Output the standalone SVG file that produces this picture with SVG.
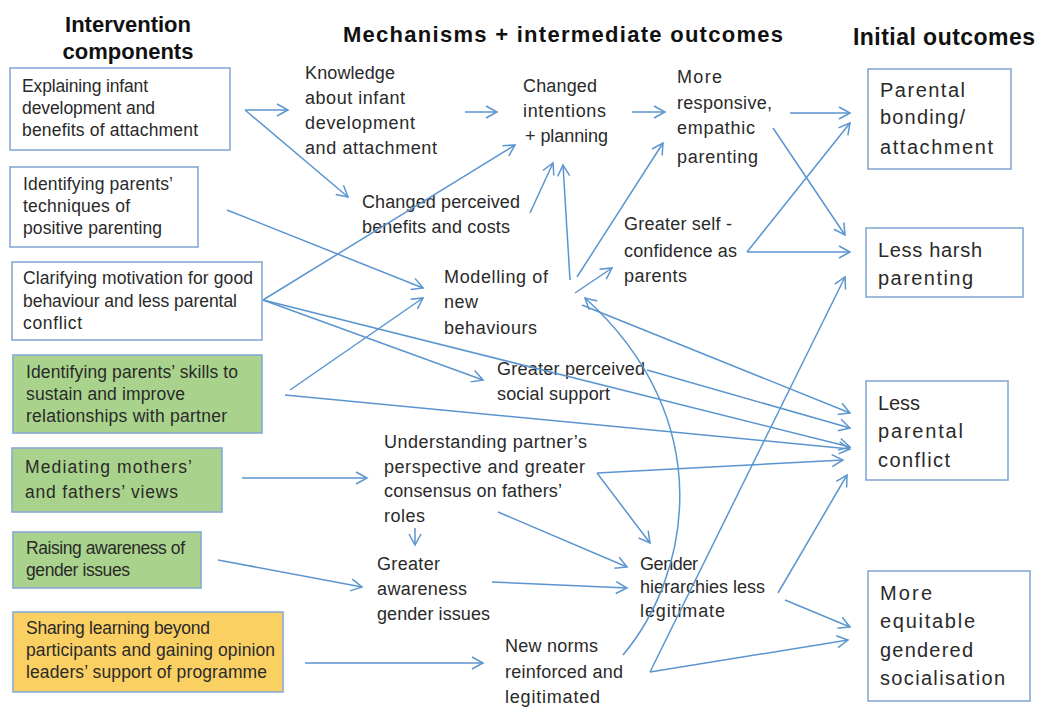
<svg xmlns="http://www.w3.org/2000/svg" width="1040" height="708" viewBox="0 0 1040 708">
<defs>
<style>
.hd{font-family:"Liberation Sans",Arial,sans-serif;font-weight:bold;fill:#111;}
.bx{fill:#fff;stroke:#86aad4;stroke-width:1.6;}
.gr{fill:#a9d38c;stroke:#86aad4;stroke-width:1.6;}
.yl{fill:#fbd063;stroke:#86aad4;stroke-width:1.6;}
.lt{font-family:"Liberation Sans",Arial,sans-serif;font-size:17.5px;fill:#2a2a2a;}
.mt{font-family:"Liberation Sans",Arial,sans-serif;font-size:18px;fill:#2a2a2a;}
.rt{font-family:"Liberation Sans",Arial,sans-serif;font-size:20px;fill:#2a2a2a;}
.c line,.c path{stroke:#5b95cf;stroke-width:1.5;fill:none;marker-end:url(#ah);}
</style>
<marker id="ah" markerWidth="14" markerHeight="14" refX="12" refY="7" orient="auto" markerUnits="userSpaceOnUse">
<path d="M1,1 L12,7 L1,13" fill="none" stroke="#5b95cf" stroke-width="1.5"/>
</marker>
</defs>
<rect width="1040" height="708" fill="#fff"/>

<g id="headers">
<text class="hd" x="128" y="32" font-size="22" text-anchor="middle">Intervention</text>
<text class="hd" x="128" y="59" font-size="22" text-anchor="middle">components</text>
<text class="hd" x="343" y="42" font-size="22" textLength="440">Mechanisms + intermediate outcomes</text>
<text class="hd" x="853" y="45" font-size="23" textLength="182">Initial outcomes</text>
</g>

<g id="n-explaining">
<rect class="bx" x="10" y="68" width="220" height="82"/>
<text class="lt" x="22" y="92" textLength="126">Explaining infant</text>
<text class="lt" x="22" y="114" textLength="133">development and</text>
<text class="lt" x="22" y="136" textLength="176">benefits of attachment</text>
</g>
<g id="n-techniques">
<rect class="bx" x="10" y="167" width="188" height="80"/>
<text class="lt" x="23" y="190" textLength="150">Identifying parents’</text>
<text class="lt" x="23" y="212" textLength="107">techniques of</text>
<text class="lt" x="23" y="234" textLength="139">positive parenting</text>
</g>
<g id="n-clarifying">
<rect class="bx" x="12" y="262" width="250" height="78"/>
<text class="lt" x="23" y="284" textLength="230">Clarifying motivation for good</text>
<text class="lt" x="23" y="307" textLength="214">behaviour and less parental</text>
<text class="lt" x="23" y="329" textLength="59">conflict</text>
</g>
<g id="n-skills">
<rect class="gr" x="13" y="355" width="249" height="78"/>
<text class="lt" x="26" y="378" textLength="212">Identifying parents’ skills to</text>
<text class="lt" x="26" y="400" textLength="159">sustain and improve</text>
<text class="lt" x="26" y="422" textLength="201">relationships with partner</text>
</g>
<g id="n-mediating">
<rect class="gr" x="12" y="448" width="210" height="64"/>
<text class="lt" x="25" y="473" font-size="20" textLength="167">Mediating mothers’</text>
<text class="lt" x="25" y="498" font-size="20" textLength="153">and fathers’ views</text>
</g>
<g id="n-raising">
<rect class="gr" x="13" y="532" width="188" height="56"/>
<text class="lt" x="26" y="554" textLength="159">Raising awareness of</text>
<text class="lt" x="26" y="576" textLength="104">gender issues</text>
</g>
<g id="n-sharing">
<rect class="yl" x="13" y="612" width="270" height="80"/>
<text class="lt" x="26" y="634" textLength="184">Sharing learning beyond</text>
<text class="lt" x="26" y="656" textLength="249">participants and gaining opinion</text>
<text class="lt" x="26" y="678" textLength="241">leaders’ support of programme</text>
</g>

<g id="n-knowledge">
<text class="mt" x="305" y="79" textLength="90">Knowledge</text>
<text class="mt" x="305" y="104" textLength="100">about infant</text>
<text class="mt" x="305" y="129" textLength="110">development</text>
<text class="mt" x="305" y="154" textLength="132">and attachment</text>
</g>
<g id="n-benefits">
<text class="mt" x="362" y="208" textLength="158">Changed perceived</text>
<text class="mt" x="362" y="233" textLength="148">benefits and costs</text>
</g>
<g id="n-intentions">
<text class="mt" x="523" y="92" textLength="74">Changed</text>
<text class="mt" x="523" y="117" textLength="83">intentions</text>
<text class="mt" x="525" y="142" textLength="83">+ planning</text>
</g>
<g id="n-responsive">
<text class="mt" x="677" y="83" textLength="45">More</text>
<text class="mt" x="677" y="109" textLength="95">responsive,</text>
<text class="mt" x="677" y="134" textLength="78">empathic</text>
<text class="mt" x="677" y="163" textLength="81">parenting</text>
</g>
<g id="n-selfconf">
<text class="mt" x="624" y="230" textLength="108">Greater self -</text>
<text class="mt" x="624" y="257" textLength="113">confidence as</text>
<text class="mt" x="624" y="282" textLength="63">parents</text>
</g>
<g id="n-modelling">
<text class="mt" x="444" y="283" textLength="104">Modelling of</text>
<text class="mt" x="444" y="308" textLength="34">new</text>
<text class="mt" x="444" y="334" textLength="93">behaviours</text>
</g>
<g id="n-support">
<text class="mt" x="497" y="375" textLength="148">Greater perceived</text>
<text class="mt" x="497" y="400" textLength="113">social support</text>
</g>
<g id="n-understanding">
<text class="mt" x="384" y="448" textLength="203">Understanding partner’s</text>
<text class="mt" x="384" y="473" textLength="201">perspective and greater</text>
<text class="mt" x="384" y="497" textLength="178">consensus on fathers’</text>
<text class="mt" x="384" y="522" textLength="41">roles</text>
</g>
<g id="n-awareness">
<text class="mt" x="377" y="570" textLength="63">Greater</text>
<text class="mt" x="377" y="595" textLength="90">awareness</text>
<text class="mt" x="377" y="620" textLength="113">gender issues</text>
</g>
<g id="n-gender">
<text class="mt" x="640" y="570" textLength="58">Gender</text>
<text class="mt" x="640" y="593" textLength="125">hierarchies less</text>
<text class="mt" x="640" y="617" textLength="85">legitimate</text>
</g>
<g id="n-norms">
<text class="mt" x="505" y="652" textLength="93">New norms</text>
<text class="mt" x="505" y="678" textLength="118">reinforced and</text>
<text class="mt" x="505" y="703" textLength="95">legitimated</text>
</g>

<g id="n-bonding">
<rect class="bx" x="868" y="69" width="143" height="100"/>
<text class="rt" x="880" y="97" textLength="85">Parental</text>
<text class="rt" x="880" y="124" textLength="85">bonding/</text>
<text class="rt" x="880" y="154" textLength="113">attachment</text>
</g>
<g id="n-harsh">
<rect class="bx" x="866" y="228" width="157" height="69"/>
<text class="rt" x="878" y="257" textLength="104">Less harsh</text>
<text class="rt" x="878" y="285" textLength="95">parenting</text>
</g>
<g id="n-conflict">
<rect class="bx" x="866" y="381" width="142" height="99"/>
<text class="rt" x="878" y="410" textLength="42">Less</text>
<text class="rt" x="878" y="438" textLength="85">parental</text>
<text class="rt" x="878" y="467" textLength="72">conflict</text>
</g>
<g id="n-equitable">
<rect class="bx" x="868" y="571" width="162" height="130"/>
<text class="rt" x="880" y="600" textLength="52">More</text>
<text class="rt" x="880" y="628" textLength="95">equitable</text>
<text class="rt" x="880" y="657" textLength="93">gendered</text>
<text class="rt" x="880" y="685" textLength="125">socialisation</text>
</g>

<g id="connectors" class="c">
<line x1="245" y1="110" x2="288" y2="110"/>
<line x1="245" y1="110" x2="348" y2="197"/>
<line x1="465" y1="112" x2="497" y2="112"/>
<line x1="263" y1="300" x2="515" y2="145"/>
<line x1="227" y1="210" x2="423" y2="288"/>
<line x1="290" y1="390" x2="423" y2="298"/>
<line x1="263" y1="300" x2="483" y2="380"/>
<line x1="263" y1="300" x2="850" y2="447"/>
<line x1="285" y1="395" x2="850" y2="449"/>
<line x1="530" y1="213" x2="553" y2="163"/>
<line x1="570" y1="280" x2="563" y2="165"/>
<line x1="577" y1="277" x2="663" y2="143"/>
<line x1="575" y1="293" x2="612" y2="268"/>
<line x1="632" y1="112" x2="665" y2="112"/>
<line x1="790" y1="113" x2="850" y2="113"/>
<line x1="773" y1="128" x2="845" y2="235"/>
<line x1="747" y1="252" x2="850" y2="123"/>
<line x1="747" y1="252" x2="850" y2="252"/>
<line x1="582" y1="305" x2="850" y2="413"/>
<line x1="647" y1="370" x2="850" y2="428"/>
<line x1="597" y1="473" x2="843" y2="460"/>
<line x1="597" y1="473" x2="650" y2="543"/>
<line x1="498" y1="512" x2="627" y2="567"/>
<line x1="415" y1="528" x2="415" y2="545"/>
<line x1="242" y1="478" x2="367" y2="478"/>
<line x1="218" y1="560" x2="362" y2="587"/>
<line x1="492" y1="582" x2="627" y2="588"/>
<line x1="305" y1="663" x2="483" y2="663"/>
<line x1="778" y1="593" x2="847" y2="475"/>
<line x1="785" y1="600" x2="850" y2="627"/>
<line x1="650" y1="672" x2="848" y2="640"/>
<line x1="650" y1="672" x2="845" y2="277"/>
<path d="M623,655 C690,575 720,420 585,298"/>
</g>
</svg>
